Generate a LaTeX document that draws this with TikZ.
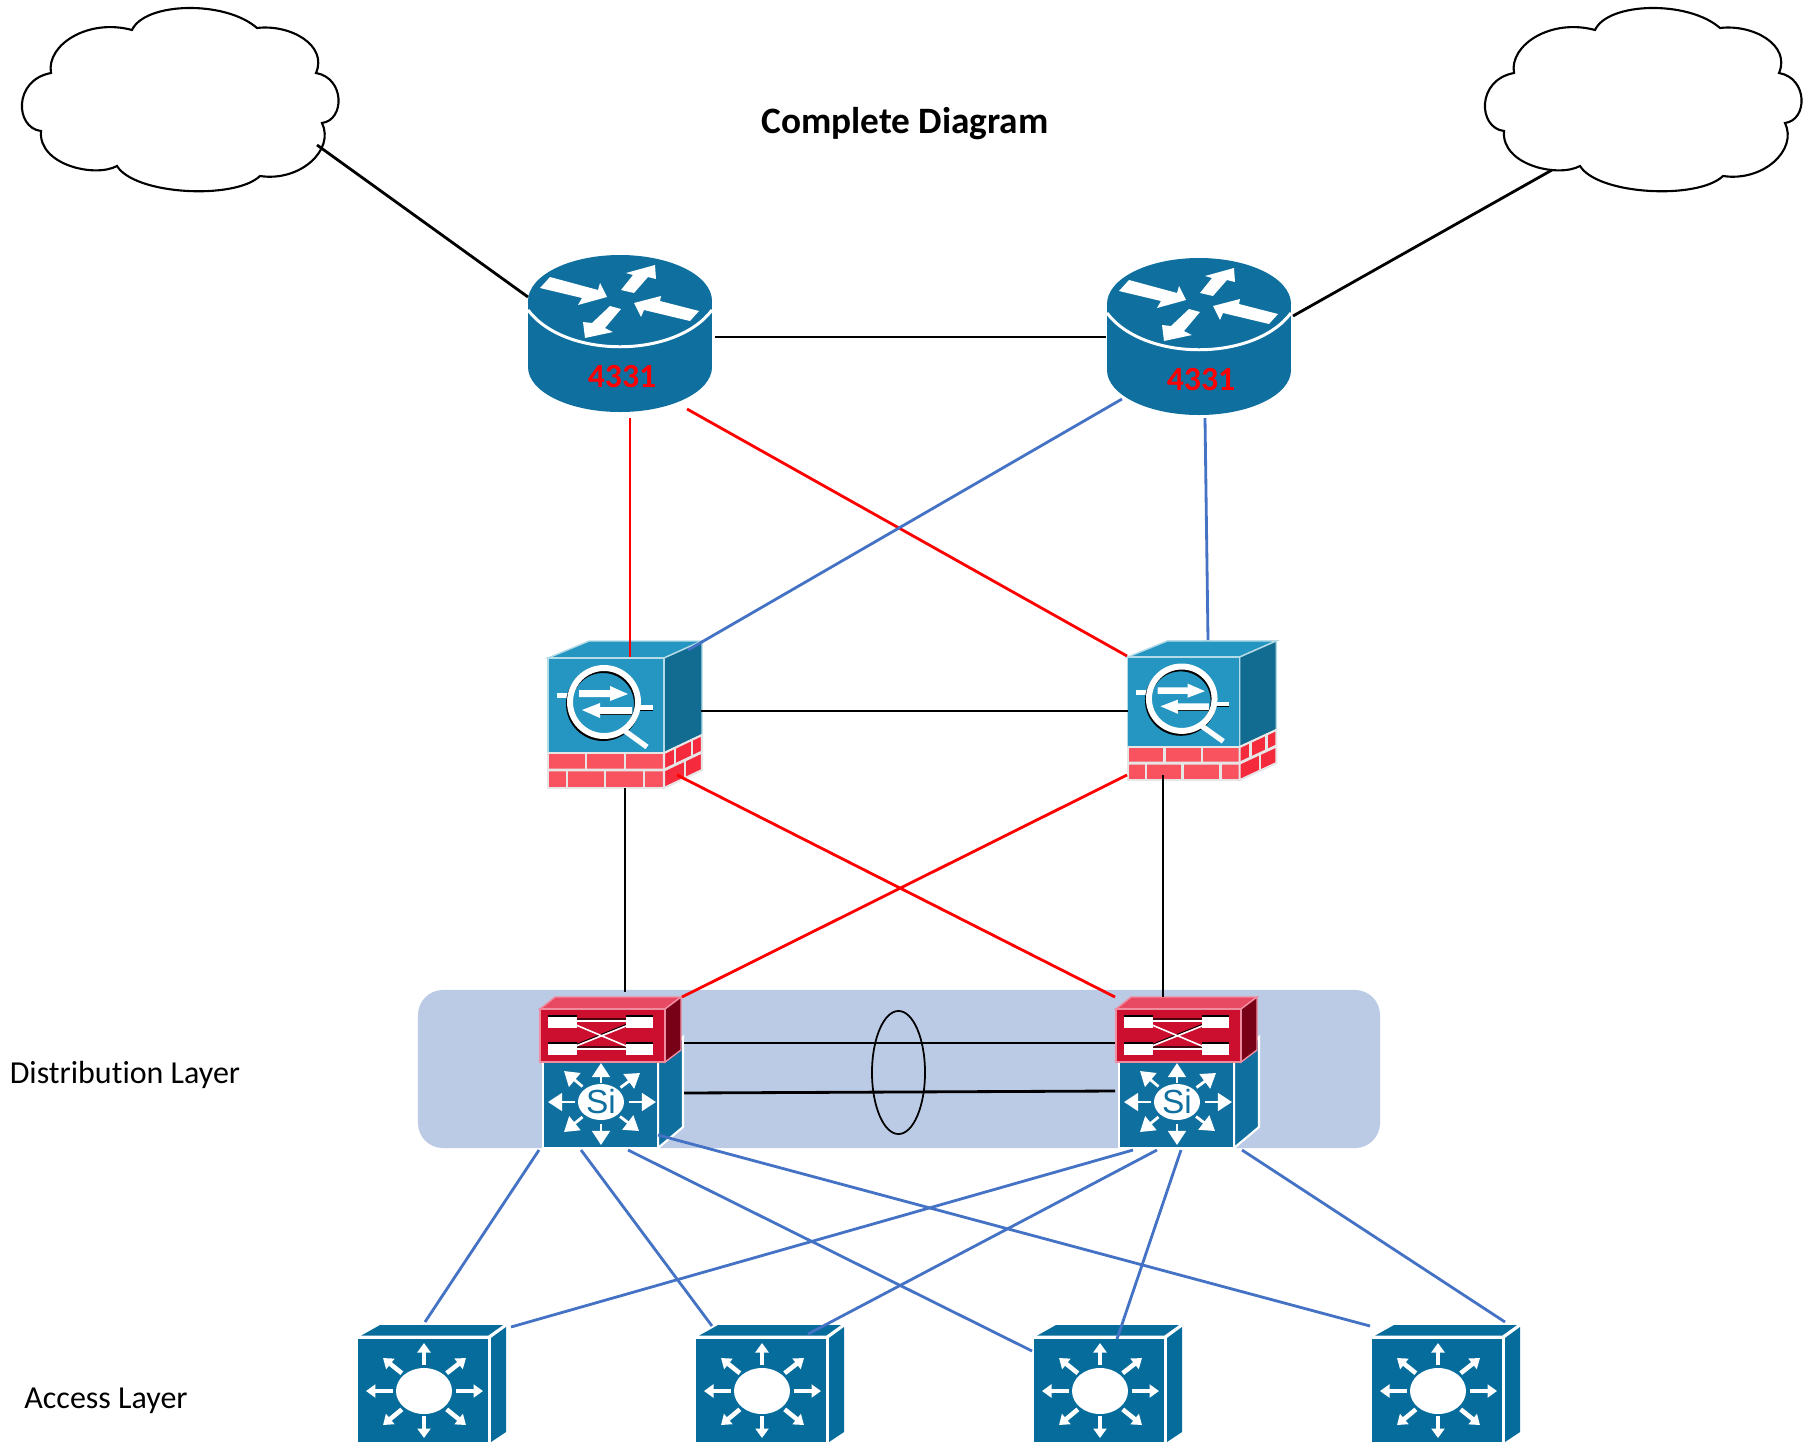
\documentclass[tikz,border=0pt]{standalone}
\usepackage{fontspec}
\usepackage{xcolor}
\usetikzlibrary{arrows.meta,shapes.geometric}
\setmainfont[Ligatures=NoCommon]{Carlito}
\newfontfamily\sifont{Liberation Sans}

\definecolor{routerblue}{HTML}{0F6F9F}
\definecolor{fwblue}{HTML}{2595C2}
\definecolor{fwdark}{HTML}{126B91}
\definecolor{fwedge}{HTML}{B5DCE6}
\definecolor{brickfront}{HTML}{FA5360}
\definecolor{brickside}{HTML}{F52A3C}
\definecolor{brickline}{HTML}{E6E6E6}
\definecolor{topred}{HTML}{E84A64}
\definecolor{frontred}{HTML}{CC0F2F}
\definecolor{sidered}{HTML}{780017}
\definecolor{rededge}{HTML}{F08CA0}
\definecolor{bandblue}{HTML}{BBCBE6}
\definecolor{linkblue}{HTML}{4472C4}
\definecolor{accblue}{HTML}{066C9C}

\tikzset{
  devbox/.style={inner sep=0pt,minimum width=#1},
  blacklink/.style={draw=black,line width=0.8pt},
  redlink/.style={draw=red,line width=0.8pt},
  bluelink/.style={draw=linkblue,line width=0.8pt},
  pics/cloudicon/.style={code={
    \begin{scope}[shift={(-180,-100)}]
      \draw[line width=0.6pt,fill=white] (51,73) .. controls (46,45) and (88,18) .. (132,30)
        .. controls (145,2) and (225,0) .. (257,28)
        .. controls (290,24) and (328,45) .. (316,73)
        .. controls (345,78) and (345,120) .. (322,123)
        .. controls (335,150) and (300,182) .. (260,176)
        .. controls (235,200) and (135,195) .. (117,166)
        .. controls (95,178) and (38,165) .. (41,131)
        .. controls (15,128) and (13,80) .. (51,73) -- cycle;
    \end{scope}
  }},
  pics/routericon/.style={code={
    \fill[routerblue] (-92,-33) rectangle (92,33);
    \fill[routerblue] (0,-33) ellipse [x radius=92,y radius=46];
    \fill[routerblue] (0,33) ellipse [x radius=92,y radius=45];
    \draw[white,line width=0.85pt] (-92,-24) .. controls (-55,25) and (55,25) .. (92,-24);
    \begin{scope}[shift={(0,-33)}]
      \fill[white] (-80,-13) -- (-70,-24) -- (-22,-11) -- (-20,-18) -- (-13,-4) -- (-42,4) -- (-38,-3) -- cycle;
      \fill[white] (1,-11) -- (13,-26) -- (6,-28) -- (35,-36) -- (36,-22) -- (28,-24) -- (14,-8) -- cycle;
      \fill[white] (79,10) -- (40,0) -- (41,-5) -- (14,2) -- (21,16) -- (24,9) -- (70,20) -- cycle;
      \fill[white] (-10,5) -- (1,8) -- (-15,27) -- (-7,31) -- (-35,37) -- (-37,21) -- (-28,22) -- cycle;
    \end{scope}
  }},
  pics/fwicon/.style={code={
    \begin{scope}[shift={(-77,-57)}]
      % Blue cube
      \draw[fwedge,line width=0.4pt,fill=fwblue] (0,0) -- (41,-17) -- (154,-17) -- (116,0) -- cycle;
      \draw[fwedge,line width=0.4pt,fill=fwdark] (116,0) -- (154,-17) -- (154,77) -- (116,95) -- cycle;
      \fill[fwblue] (0,0) rectangle (116,95);
      \draw[fwedge,line width=0.4pt] (0,95) -- (0,0) -- (116,0) -- (116,95);
      % Brick wall
      \draw[brickline,line width=0.6pt,fill=brickfront] (0,95) rectangle (116,130);
      \draw[brickline,line width=0.6pt,fill=brickside] (116,95) -- (154,77) -- (154,112) -- (116,130) -- cycle;
      \draw[brickline,line width=0.8pt] (0,112) -- (116,112) (116,112) -- (154,94);
      \foreach \bx in {38,77} \draw[brickline,line width=0.8pt] (\bx,95) -- (\bx,112);
      \foreach \bx in {19,57,96} \draw[brickline,line width=0.8pt] (\bx,112) -- (\bx,130);
      \draw[brickline,line width=0.8pt] (127,90) -- (127,107) (144,82) -- (144,99) (137,103) -- (137,120);
      % Arrows and lens
      \fill[white] (9,35) rectangle (22,40);
      \fill[black] (91,52) rectangle (105,53);
      \fill[white] (91,47) rectangle (105,52);
      \fill[white] (31,32) rectangle (62,39) (62,28) -- (80,36) -- (62,43) -- cycle;
      \fill[black] (52,56) rectangle (84,57);
      \fill[white] (52,49) rectangle (84,56) (34,52) -- (52,45) -- (52,60) -- cycle;
      \draw[black,line width=1.7pt] (55,46) circle (34);
      \draw[white,line width=1.7pt] (56,44) circle (34);
      \draw[white,line width=1.5pt] (77,73) -- (99,89);
    \end{scope}
  }},
  pics/swicon/.style={code={
    \begin{scope}[shift={(-72,-63)}]
      % Si body
      \draw[white,line width=0.6pt,fill=routerblue] (118,139) -- (143,118) -- (143,28) -- (118,53) -- cycle;
      \draw[white,line width=0.6pt,fill=routerblue] (3,53) rectangle (118,139);
      \foreach \tx/\ty in {-53/0,55/0,0/-39,0/43,-37/-31,39/-29,-37/30,38/29}
        \draw[white,line width=0.8pt,-{Triangle[length=4pt,width=5pt]}] (61+.5*\tx,93+.5*\ty) -- (61+\tx,93+\ty);
      \fill[white] (61,93) ellipse [x radius=23,y radius=18];
      \node[text=routerblue,font=\sifont\fontsize{9.5}{9.5}\selectfont,inner sep=0pt] (si) at (61,93) {Si};
      % Red top box
      \draw[rededge,line width=0.4pt,fill=topred] (0,0) -- (15,-12) -- (141,-12) -- (125,0) -- cycle;
      \draw[rededge,line width=0.4pt,fill=sidered] (125,0) -- (141,-12) -- (141,41) -- (125,53) -- cycle;
      \draw[rededge,line width=0.4pt,fill=frontred] (0,0) rectangle (125,53);
      \draw[black,line width=0.3pt] (36,10) -- (86,10) (36,38) -- (86,38) (36,35.5) -- (86,15.5);
      \draw[white,line width=0.45pt] (36,12) -- (86,12) (36,40) -- (86,40) (36,16) -- (86,37) (36,37) -- (86,17);
      \foreach \rx/\rw in {8/29,86/27} {
        \fill[white] (\rx,7) rectangle ++(\rw,12);
        \fill[white] (\rx,34) rectangle ++(\rw,12);
        \draw[black,line width=0.3pt] (\rx,7) -- ++(\rw,0) (\rx,34) -- ++(\rw,0);
      }
    \end{scope}
  }},
  pics/accicon/.style={code={
    \begin{scope}[shift={(-74,-45)}]
      \fill[accblue] (3,-3.3) -- (22,-14) -- (145,-14) -- (130,-3.3) -- cycle;
      \fill[accblue] (133,-1) -- (148,-12) -- (148,93) -- (133,103) -- cycle;
      \fill[accblue] (0,0) rectangle (130,103);
      \foreach \tx/\ty in {59/0,-58/0,0/-48,0/47,42/-33,-41/-33,42/34,-41/34}
        \draw[white,line width=1.3pt,-{Triangle[length=2.7pt,width=3.7pt]}] (66+.54*\tx,52+.54*\ty) -- (66+\tx,52+\ty);
      \fill[white] (66,52) ellipse [x radius=28,y radius=23];
    \end{scope}
  }}
}

\begin{document}
\begin{tikzpicture}[x=0.01cm,y=-0.01cm]
  \useasboundingbox (0,0) rectangle (1818,1445);

  % Title and layer names
  \node[font=\bfseries\fontsize{10.6}{12}\selectfont] (title) at (905,124) {Complete Diagram};
  \node[font=\fontsize{9.1}{11}\selectfont] (distname) at (125,1075) {Distribution Layer};
  \node[font=\fontsize{9.1}{11}\selectfont] (accname) at (106,1401) {Access Layer};

  % Band behind the distribution switches
  \node[fill=bandblue,rounded corners=0.25cm,inner sep=0pt,minimum width=9.615cm,minimum height=1.58cm] (distband) at (899,1069) {};

  % Clouds
  \node[devbox=3.17cm,minimum height=1.84cm] (cloudL) at (180,100) {};
  \node[devbox=3.17cm,minimum height=1.84cm] (cloudR) at (1643,100) {};
  \pic at (cloudL.center) {cloudicon};
  \pic at (cloudR.center) {cloudicon};

  % Routers
  \node[devbox=1.84cm,minimum height=1.57cm] (rtrL) at (620,334) {};
  \node[devbox=1.84cm,minimum height=1.57cm] (rtrR) at (1199,337) {};
  \pic at (rtrL.center) {routericon};
  \pic at (rtrR.center) {routericon};
  \node[text=red,font=\bfseries\fontsize{9.6}{11}\selectfont] (tagL) at (622,377) {4331};
  \node[text=red,font=\bfseries\fontsize{9.6}{11}\selectfont] (tagR) at (1201,380) {4331};

  % Firewalls
  \node[devbox=1.54cm,minimum height=1.47cm] (fwL) at (625,715) {};
  \node[devbox=1.48cm,minimum height=1.39cm] (fwR) at (1202,711) {};
  \pic at (fwL.center) {fwicon};
  \pic[xscale=0.965,yscale=0.947] at (fwR.center) {fwicon};

  % Distribution switches
  \node[devbox=1.43cm,minimum height=1.51cm] (swL) at (612,1072) {};
  \node[devbox=1.43cm,minimum height=1.51cm] (swR) at (1188,1072) {};
  \pic (iconL) at (swL.center) {swicon};
  \pic (iconR) at (swR.center) {swicon};

  % Access switches
  \foreach \i/\ax in {1/432,2/770,3/1108,4/1446} {
    \node[devbox=1.48cm,minimum height=1.17cm] (acc\i) at (\ax,1384) {};
    \pic at (acc\i.center) {accicon};
  }

  % Links at the top
  \draw[blacklink] ([shift={(137,45)}]cloudL.center) -- ([shift={(-92,-37)}]rtrL.center);
  \draw[blacklink] ([shift={(-91,70)}]cloudR.center) -- ([shift={(94,-21)}]rtrR.center);
  \draw[blacklink] ([shift={(95,3)}]rtrL.center) -- ([shift={(-93,0)}]rtrR.center);
  \draw[redlink] ([shift={(10,84)}]rtrL.center) -- ([shift={(5,-58)}]fwL.center);
  \draw[redlink] ([shift={(67,75)}]rtrL.center) -- ([shift={(-75,-55)}]fwR.center);
  \draw[bluelink] ([shift={(-77,62)}]rtrR.center) -- ([shift={(63,-65)}]fwL.center);
  \draw[bluelink] ([shift={(6,81)}]rtrR.center) -- ([shift={(6,-71)}]fwR.center);

  % Links in the middle
  \draw[blacklink] ([shift={(76,-4)}]fwL.center) -- ([shift={(-74,0)}]fwR.center);
  \draw[blacklink] ([shift={(0,73)}]fwL.center) -- ([shift={(13,-80)}]swL.center);
  \draw[blacklink] ([shift={(-39,64)}]fwR.center) -- ([shift={(-25,-75)}]swR.center);
  \draw[redlink] ([shift={(52,60)}]fwL.center) -- ([shift={(-73,-75)}]swR.center);
  \draw[redlink] ([shift={(-75,64)}]fwR.center) -- ([shift={(70,-75)}]swL.center);

  % Links between the distribution switches
  \draw[blacklink] ([shift={(72,-29)}]swL.center) -- ([shift={(-73,-29)}]swR.center);
  \draw[blacklink] ([shift={(72,21)}]swL.center) -- ([shift={(-73,19)}]swR.center);
  \node[draw,ellipse,line width=0.5pt,inner sep=0pt,minimum width=0.53cm,minimum height=1.23cm] (lagring) at (898.5,1072.5) {};

  % Links to the access switches
  \draw[bluelink] ([shift={(-73,78)}]swL.center) -- ([shift={(-7,-62)}]acc1.center);
  \draw[bluelink] ([shift={(-31,78)}]swL.center) -- ([shift={(-58,-58)}]acc2.center);
  \draw[bluelink] ([shift={(16,78)}]swL.center) -- ([shift={(-76,-33)}]acc3.center);
  \draw[bluelink] ([shift={(46,63)}]swL.center) -- ([shift={(-76,-58)}]acc4.center);
  \draw[bluelink] ([shift={(-55,78)}]swR.center) -- ([shift={(79,-57)}]acc1.center);
  \draw[bluelink] ([shift={(-31,78)}]swR.center) -- ([shift={(38,-50)}]acc2.center);
  \draw[bluelink] ([shift={(-7,78)}]swR.center) -- ([shift={(9,-45)}]acc3.center);
  \draw[bluelink] ([shift={(54,78)}]swR.center) -- ([shift={(59,-62)}]acc4.center);
\end{tikzpicture}
\end{document}
